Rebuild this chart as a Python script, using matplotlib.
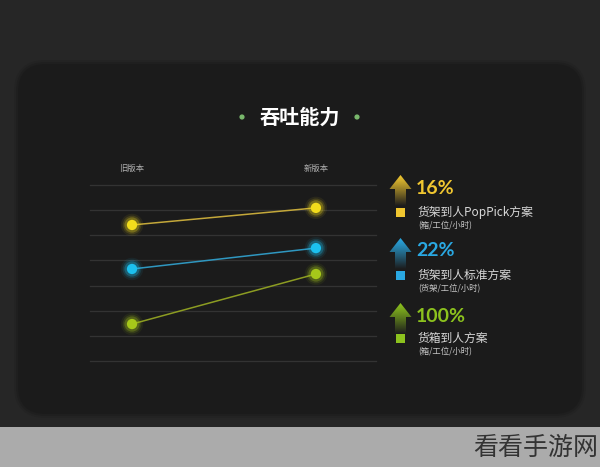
import numpy as np
import matplotlib
matplotlib.use("Agg")
import matplotlib.pyplot as plt
from matplotlib.patches import FancyBboxPatch, Polygon, Rectangle, Circle

plt.rcParams['font.family'] = ['Noto Sans CJK SC', 'DejaVu Sans']

# data
versions = ["旧版本", "新版本"]
series_names = ["货架到人PopPick方案", "货架到人标准方案", "货箱到人方案"]
series_units = ["(箱/工位/小时)", "(货架/工位/小时)", "(箱/工位/小时)"]
old_values = [5.41, 3.66, 1.47]
new_values = [6.09, 4.49, 3.46]
growth_labels = ["16%", "22%", "100%"]

dot_colors = ["#f2dc1c", "#1cc0ee", "#a6c81a"]
line_colors = ["#c4a83a", "#2f97c0", "#8c9c22"]
pct_colors = ["#f0c630", "#2aa8e2", "#8cc21e"]

W, H = 600, 467
fig = plt.figure(figsize=(6, 4.67), dpi=100)
fig.patch.set_facecolor("#262626")

# overlay axes in pixel coordinates (y down)
bg = fig.add_axes([0, 0, 1, 1])
bg.set_xlim(0, W)
bg.set_ylim(H, 0)
bg.axis("off")

# dark rounded panel with a soft edge
for pad, col in [(4, "#232323"), (2, "#1f1f1f"), (0, "#1b1b1b")]:
    bg.add_patch(FancyBboxPatch((18 - pad, 64 - pad), 564 + 2 * pad, 350 + 2 * pad,
                                boxstyle="round,pad=0,rounding_size=%d" % (28 + pad),
                                facecolor=col, edgecolor="none", zorder=1))
# grey bottom band with watermark
bg.add_patch(Rectangle((0, 427), W, 40, facecolor="#ababab", edgecolor="none", zorder=2))
bg.text(598, 448, "看看手游网", fontsize=18, color="#333333", ha="right", va="center",
        zorder=3)

# title
bg.text(300, 117, "吞吐能力", fontsize=14.5, fontweight="bold", color="white",
        ha="center", va="center", zorder=3)
for cx in (242, 357):
    bg.add_patch(Circle((cx, 117), 2.6, facecolor="#79b86c", edgecolor="none", zorder=3))

# chart axes: grid lines 0..7 between y=361 and y=185 px, x from 90 to 376 px
ax = fig.add_axes([90 / W, 1 - 361 / H, 286 / W, 176 / H])
ax.set_xlim(-0.2285, 1.3266)
ax.set_ylim(0, 7)
ax.axis("off")
for g in range(8):
    ax.axhline(g, color="#333333", lw=0.9, clip_on=False, zorder=1)

xs = [0, 1]
for i in range(3):
    ax.plot(xs, [old_values[i], new_values[i]], color=line_colors[i], lw=1.1,
            clip_on=False, zorder=2)
    # glowing markers
    for s, a in [(260, 0.07), (180, 0.14), (120, 0.28)]:
        ax.scatter(xs, [old_values[i], new_values[i]], s=s, color=dot_colors[i],
                   alpha=a, edgecolors="none", clip_on=False, zorder=3)
    ax.scatter(xs, [old_values[i], new_values[i]], s=55, color=dot_colors[i],
               edgecolors="none", clip_on=False, zorder=4)

for x, lab in zip(xs, versions):
    ax.text(x, 7.65, lab, fontsize=6, color="#b0b0b0", ha="center", va="center")

# right-hand legend
pct_y = [188, 251, 316]
for i in range(3):
    y0 = pct_y[i]
    # gradient arrow
    arrow = Polygon([(400.5, y0 - 13), (411.5, y0 + 1), (406, y0 + 1), (406, y0 + 18),
                     (395, y0 + 18), (395, y0 + 1), (389.5, y0 + 1)], closed=True,
                    facecolor="none", edgecolor="none", zorder=3)
    bg.add_patch(arrow)
    rgb = np.array(matplotlib.colors.to_rgb(pct_colors[i]))
    dark = np.array([0.11, 0.11, 0.11])
    t = np.linspace(0, 1, 64)[:, None]
    grad = (rgb * (1 - t ** 1.1) + dark * t ** 1.1)[:, None, :]
    im = bg.imshow(grad, extent=(389, 412, y0 + 18, y0 - 13), aspect="auto", zorder=3)
    im.set_clip_path(arrow)
    bg.text(416, y0, growth_labels[i], fontsize=14, fontweight="bold",
            family=["Lato", "DejaVu Sans"],
            color=pct_colors[i], ha="left", va="center", zorder=4)
    my = y0 + 24 if i < 2 else y0 + 22
    bg.add_patch(Rectangle((396, my - 4.5), 9, 9, facecolor=pct_colors[i],
                           edgecolor="none", zorder=3))
    bg.text(418, my, series_names[i], fontsize=8.5, color="#d8d8d8",
            ha="left", va="center", zorder=4)
    bg.text(418, my + 14, series_units[i], fontsize=6, color="#c8c8c8",
            ha="left", va="center", zorder=4)

fig.savefig("out.png", dpi=100, facecolor=fig.get_facecolor())
